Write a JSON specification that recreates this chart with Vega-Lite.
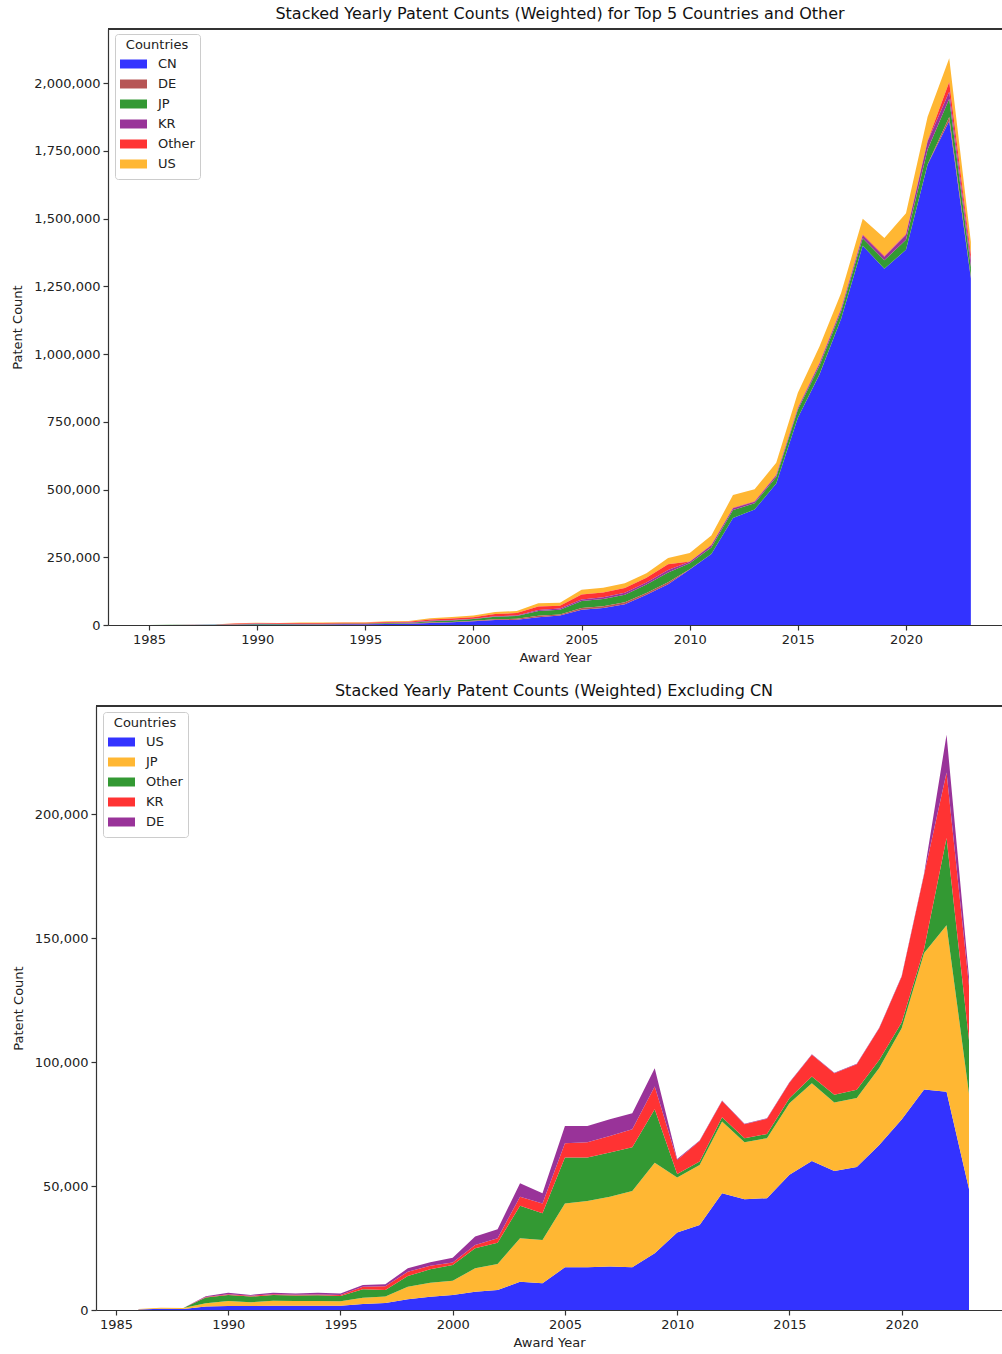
{
  "$schema": "https://vega.github.io/schema/vega-lite/v6.json",
  "padding": {"left": 11, "top": 6, "right": 0, "bottom": 0},
  "background": "white",
  "config": {
    "font": "DejaVu Sans",
    "view": {"stroke": null},
    "axis": {"labelFont": "DejaVu Sans", "labelFontSize": 13, "labelColor": "#222", "titleFont": "DejaVu Sans", "titleFontSize": 13, "titleFontWeight": "normal", "titleColor": "#222", "domainColor": "#333", "tickColor": "#333", "tickSize": 5, "grid": false, "domainWidth": 1.2, "tickWidth": 1.2, "labelPadding": 3},
    "legend": {"titleFont": "DejaVu Sans", "titleFontSize": 13, "titleFontWeight": "normal", "titleColor": "#222", "titleAnchor": "middle", "titlePadding": 2, "labelFont": "DejaVu Sans", "labelFontSize": 13, "labelColor": "#222", "symbolType": "M-1,-0.333H1V0.333H-1Z", "symbolSize": 729, "symbolStrokeWidth": 0, "symbolOpacity": 1, "padding": 5, "strokeColor": "#cccccc", "cornerRadius": 3, "fillColor": "white", "rowPadding": 0, "clipHeight": 20, "labelOffset": 11},
    "title": {"font": "DejaVu Sans", "fontSize": 16, "fontWeight": "normal", "color": "#111", "offset": 6}
  },
  "data": {"values": [
{"year":1985,"country":"CN","count":100},{"year":1985,"country":"US","count":0},{"year":1985,"country":"JP","count":0},{"year":1985,"country":"Other","count":0},{"year":1985,"country":"KR","count":0},{"year":1985,"country":"DE","count":0},
{"year":1986,"country":"CN","count":300},{"year":1986,"country":"US","count":200},{"year":1986,"country":"JP","count":200},{"year":1986,"country":"Other","count":0},{"year":1986,"country":"KR","count":0},{"year":1986,"country":"DE","count":0},
{"year":1987,"country":"CN","count":800},{"year":1987,"country":"US","count":500},{"year":1987,"country":"JP","count":400},{"year":1987,"country":"Other","count":50},{"year":1987,"country":"KR","count":0},{"year":1987,"country":"DE","count":0},
{"year":1988,"country":"CN","count":1000},{"year":1988,"country":"US","count":400},{"year":1988,"country":"JP","count":400},{"year":1988,"country":"Other","count":50},{"year":1988,"country":"KR","count":0},{"year":1988,"country":"DE","count":0},
{"year":1989,"country":"CN","count":1200},{"year":1989,"country":"US","count":1400},{"year":1989,"country":"JP","count":1300},{"year":1989,"country":"Other","count":2300},{"year":1989,"country":"KR","count":200},{"year":1989,"country":"DE","count":300},
{"year":1990,"country":"CN","count":1500},{"year":1990,"country":"US","count":1600},{"year":1990,"country":"JP","count":2000},{"year":1990,"country":"Other","count":2450},{"year":1990,"country":"KR","count":350},{"year":1990,"country":"DE","count":600},
{"year":1991,"country":"CN","count":1700},{"year":1991,"country":"US","count":1600},{"year":1991,"country":"JP","count":1500},{"year":1991,"country":"Other","count":2300},{"year":1991,"country":"KR","count":300},{"year":1991,"country":"DE","count":400},
{"year":1992,"country":"CN","count":2000},{"year":1992,"country":"US","count":1750},{"year":1992,"country":"JP","count":2000},{"year":1992,"country":"Other","count":2250},{"year":1992,"country":"KR","count":400},{"year":1992,"country":"DE","count":600},
{"year":1993,"country":"CN","count":2300},{"year":1993,"country":"US","count":1750},{"year":1993,"country":"JP","count":1850},{"year":1993,"country":"Other","count":2200},{"year":1993,"country":"KR","count":400},{"year":1993,"country":"DE","count":500},
{"year":1994,"country":"CN","count":2800},{"year":1994,"country":"US","count":1750},{"year":1994,"country":"JP","count":1850},{"year":1994,"country":"Other","count":2300},{"year":1994,"country":"KR","count":400},{"year":1994,"country":"DE","count":700},
{"year":1995,"country":"CN","count":3100},{"year":1995,"country":"US","count":1750},{"year":1995,"country":"JP","count":1750},{"year":1995,"country":"Other","count":2150},{"year":1995,"country":"KR","count":450},{"year":1995,"country":"DE","count":600},
{"year":1996,"country":"CN","count":3800},{"year":1996,"country":"US","count":2420},{"year":1996,"country":"JP","count":2550},{"year":1996,"country":"Other","count":3370},{"year":1996,"country":"KR","count":1070},{"year":1996,"country":"DE","count":680},
{"year":1997,"country":"CN","count":4400},{"year":1997,"country":"US","count":2800},{"year":1997,"country":"JP","count":2600},{"year":1997,"country":"Other","count":2670},{"year":1997,"country":"KR","count":1480},{"year":1997,"country":"DE","count":810},
{"year":1998,"country":"CN","count":7800},{"year":1998,"country":"US","count":4300},{"year":1998,"country":"JP","count":5120},{"year":1998,"country":"Other","count":4300},{"year":1998,"country":"KR","count":1750},{"year":1998,"country":"DE","count":1340},
{"year":1999,"country":"CN","count":10000},{"year":1999,"country":"US","count":5380},{"year":1999,"country":"JP","count":5650},{"year":1999,"country":"Other","count":5370},{"year":1999,"country":"KR","count":1480},{"year":1999,"country":"DE","count":1350},
{"year":2000,"country":"CN","count":14000},{"year":2000,"country":"US","count":6050},{"year":2000,"country":"JP","count":5790},{"year":2000,"country":"Other","count":6320},{"year":2000,"country":"KR","count":1040},{"year":2000,"country":"DE","count":1900},
{"year":2001,"country":"CN","count":18000},{"year":2001,"country":"US","count":7400},{"year":2001,"country":"JP","count":9410},{"year":2001,"country":"Other","count":8070},{"year":2001,"country":"KR","count":1350},{"year":2001,"country":"DE","count":3370},
{"year":2002,"country":"CN","count":19500},{"year":2002,"country":"US","count":8070},{"year":2002,"country":"JP","count":10490},{"year":2002,"country":"Other","count":8610},{"year":2002,"country":"KR","count":1750},{"year":2002,"country":"DE","count":3630},
{"year":2003,"country":"CN","count":29000},{"year":2003,"country":"US","count":11400},{"year":2003,"country":"JP","count":17500},{"year":2003,"country":"Other","count":13100},{"year":2003,"country":"KR","count":3700},{"year":2003,"country":"DE","count":5400},
{"year":2004,"country":"CN","count":35000},{"year":2004,"country":"US","count":10800},{"year":2004,"country":"JP","count":17400},{"year":2004,"country":"Other","count":10800},{"year":2004,"country":"KR","count":4000},{"year":2004,"country":"DE","count":4100},
{"year":2005,"country":"CN","count":56000},{"year":2005,"country":"US","count":17200},{"year":2005,"country":"JP","count":25800},{"year":2005,"country":"Other","count":18500},{"year":2005,"country":"KR","count":5750},{"year":2005,"country":"DE","count":6950},
{"year":2006,"country":"CN","count":63000},{"year":2006,"country":"US","count":17200},{"year":2006,"country":"JP","count":26800},{"year":2006,"country":"Other","count":17500},{"year":2006,"country":"KR","count":6200},{"year":2006,"country":"DE","count":6500},
{"year":2007,"country":"CN","count":77000},{"year":2007,"country":"US","count":17500},{"year":2007,"country":"JP","count":28200},{"year":2007,"country":"Other","count":17800},{"year":2007,"country":"KR","count":6700},{"year":2007,"country":"DE","count":6700},
{"year":2008,"country":"CN","count":112000},{"year":2008,"country":"US","count":17200},{"year":2008,"country":"JP","count":30800},{"year":2008,"country":"Other","count":17600},{"year":2008,"country":"KR","count":7300},{"year":2008,"country":"DE","count":6500},
{"year":2009,"country":"CN","count":150000},{"year":2009,"country":"US","count":22900},{"year":2009,"country":"JP","count":36500},{"year":2009,"country":"Other","count":21600},{"year":2009,"country":"KR","count":9100},{"year":2009,"country":"DE","count":7400},
{"year":2010,"country":"CN","count":205000},{"year":2010,"country":"US","count":31300},{"year":2010,"country":"JP","count":22100},{"year":2010,"country":"Other","count":1500},{"year":2010,"country":"KR","count":5600},{"year":2010,"country":"DE","count":400},
{"year":2011,"country":"CN","count":262000},{"year":2011,"country":"US","count":34300},{"year":2011,"country":"JP","count":24200},{"year":2011,"country":"Other","count":1400},{"year":2011,"country":"KR","count":8300},{"year":2011,"country":"DE","count":200},
{"year":2012,"country":"CN","count":395000},{"year":2012,"country":"US","count":47100},{"year":2012,"country":"JP","count":28900},{"year":2012,"country":"Other","count":1700},{"year":2012,"country":"KR","count":6600},{"year":2012,"country":"DE","count":200},
{"year":2013,"country":"CN","count":426000},{"year":2013,"country":"US","count":44700},{"year":2013,"country":"JP","count":23000},{"year":2013,"country":"Other","count":1600},{"year":2013,"country":"KR","count":5600},{"year":2013,"country":"DE","count":200},
{"year":2014,"country":"CN","count":522000},{"year":2014,"country":"US","count":45100},{"year":2014,"country":"JP","count":24200},{"year":2014,"country":"Other","count":1700},{"year":2014,"country":"KR","count":6100},{"year":2014,"country":"DE","count":200},
{"year":2015,"country":"CN","count":765000},{"year":2015,"country":"US","count":54500},{"year":2015,"country":"JP","count":28900},{"year":2015,"country":"Other","count":2000},{"year":2015,"country":"KR","count":6300},{"year":2015,"country":"DE","count":200},
{"year":2016,"country":"CN","count":925000},{"year":2016,"country":"US","count":60100},{"year":2016,"country":"JP","count":31400},{"year":2016,"country":"Other","count":2700},{"year":2016,"country":"KR","count":8700},{"year":2016,"country":"DE","count":200},
{"year":2017,"country":"CN","count":1130000},{"year":2017,"country":"US","count":56100},{"year":2017,"country":"JP","count":27600},{"year":2017,"country":"Other","count":3100},{"year":2017,"country":"KR","count":8700},{"year":2017,"country":"DE","count":200},
{"year":2018,"country":"CN","count":1400000},{"year":2018,"country":"US","count":57700},{"year":2018,"country":"JP","count":27800},{"year":2018,"country":"Other","count":3300},{"year":2018,"country":"KR","count":10300},{"year":2018,"country":"DE","count":200},
{"year":2019,"country":"CN","count":1315000},{"year":2019,"country":"US","count":66500},{"year":2019,"country":"JP","count":31100},{"year":2019,"country":"Other","count":3200},{"year":2019,"country":"KR","count":12800},{"year":2019,"country":"DE","count":200},
{"year":2020,"country":"CN","count":1385000},{"year":2020,"country":"US","count":76800},{"year":2020,"country":"JP","count":36800},{"year":2020,"country":"Other","count":2400},{"year":2020,"country":"KR","count":18400},{"year":2020,"country":"DE","count":300},
{"year":2021,"country":"CN","count":1700000},{"year":2021,"country":"US","count":88900},{"year":2021,"country":"JP","count":55100},{"year":2021,"country":"Other","count":1600},{"year":2021,"country":"KR","count":30000},{"year":2021,"country":"DE","count":400},
{"year":2022,"country":"CN","count":1860000},{"year":2022,"country":"US","count":88000},{"year":2022,"country":"JP","count":67200},{"year":2022,"country":"Other","count":35200},{"year":2022,"country":"KR","count":26400},{"year":2022,"country":"DE","count":15200},
{"year":2023,"country":"CN","count":1280000},{"year":2023,"country":"US","count":48800},{"year":2023,"country":"JP","count":38400},{"year":2023,"country":"Other","count":21600},{"year":2023,"country":"KR","count":22000},{"year":2023,"country":"DE","count":3400}
  ]},
  "vconcat": [
    {
      "title": {"text": "Stacked Yearly Patent Counts (Weighted) for Top 5 Countries and Other", "dx": 11},
      "width": 906,
      "height": 596,
      "transform": [{"calculate": "indexof(['CN','DE','JP','KR','Other','US'], datum.country)", "as": "stackOrder"}],
      "layer": [
        {
          "mark": {"type": "area", "interpolate": "linear", "opacity": 1},
          "encoding": {
            "x": {"field": "year", "type": "quantitative", "title": "Award Year", "scale": {"domain": [1983.1, 2024.44], "range": [12, 906], "nice": false, "zero": false}, "axis": {"values": [1985, 1990, 1995, 2000, 2005, 2010, 2015, 2020], "format": "d", "titlePadding": 5}},
            "y": {"field": "count", "type": "quantitative", "stack": "zero", "title": "Patent Count", "scale": {"domain": [0, 2200000], "nice": false}, "axis": {"values": [0, 250000, 500000, 750000, 1000000, 1250000, 1500000, 1750000, 2000000], "format": ",d", "titlePadding": 9, "offset": -12}},
            "color": {"field": "country", "type": "nominal", "title": "Countries", "scale": {"domain": ["CN", "DE", "JP", "KR", "Other", "US"], "range": ["#3333ff", "#b75555", "#339933", "#993399", "#ff3333", "#ffb733"]}, "sort": ["CN", "DE", "JP", "KR", "Other", "US"], "legend": {"orient": "none", "legendX": 19, "legendY": 5}},
            "order": {"field": "stackOrder", "type": "quantitative", "sort": "ascending"}
          }
        },
        {
          "mark": {"type": "rule", "color": "#333", "strokeWidth": 1.2},
          "encoding": {"y": {"datum": 2200000}, "x": {"datum": 1983.1}, "x2": {"datum": 2024.44}}
        }
      ]
    },
    {
      "title": {"text": "Stacked Yearly Patent Counts (Weighted) Excluding CN", "dx": 5},
      "width": 906,
      "height": 604,
      "transform": [{"filter": "datum.country != 'CN' && datum.year >= 1986"}, {"calculate": "indexof(['US','JP','Other','KR','DE'], datum.country)", "as": "stackOrder"}],
      "layer": [
        {
          "mark": {"type": "area", "interpolate": "linear", "opacity": 1},
          "encoding": {
            "x": {"field": "year", "type": "quantitative", "title": "Award Year", "scale": {"domain": [1984.11, 2024.47], "nice": false, "zero": false}, "axis": {"values": [1985, 1990, 1995, 2000, 2005, 2010, 2015, 2020], "format": "d", "titlePadding": 5}},
            "y": {"field": "count", "type": "quantitative", "stack": "zero", "title": "Patent Count", "scale": {"domain": [0, 243600], "nice": false}, "axis": {"values": [0, 50000, 100000, 150000, 200000], "format": ",d", "titlePadding": 9}},
            "color": {"field": "country", "type": "nominal", "title": "Countries", "scale": {"domain": ["US", "JP", "Other", "KR", "DE"], "range": ["#3333ff", "#ffb733", "#339933", "#ff3333", "#993399"]}, "sort": ["US", "JP", "Other", "KR", "DE"], "legend": {"orient": "none", "legendX": 7, "legendY": 6}},
            "order": {"field": "stackOrder", "type": "quantitative", "sort": "ascending"}
          }
        },
        {
          "mark": {"type": "rule", "color": "#333", "strokeWidth": 1.2},
          "encoding": {"y": {"datum": 243600}}
        }
      ]
    }
  ],
  "spacing": 19,
  "resolve": {"scale": {"color": "independent", "x": "independent", "y": "independent"}, "legend": {"color": "independent"}}
}
